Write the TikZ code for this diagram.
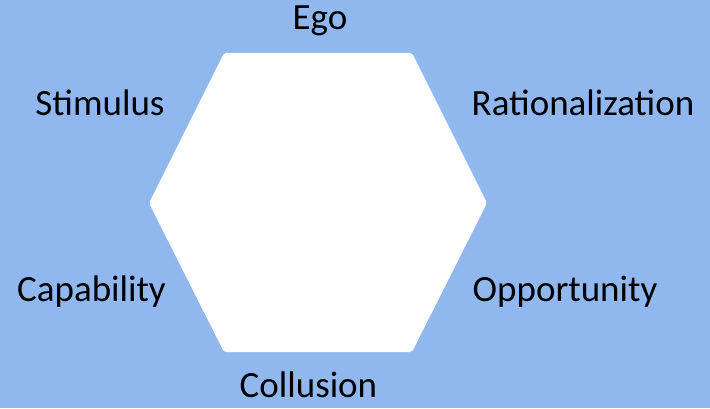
\documentclass[tikz,border=0pt]{standalone}
\usepackage{fontspec}
\setmainfont{Carlito}
\definecolor{bgblue}{RGB}{144,183,238}
\begin{document}
\begin{tikzpicture}[x=1pt,y=1pt,
  lbl/.style={font=\fontsize{37}{44}\selectfont, text=black, inner sep=0pt, anchor=base}]
\fill[bgblue] (0,0) rectangle (710,408);
\useasboundingbox (0,0) rectangle (710,408);
\coordinate (tl) at (224,355);
\coordinate (tr) at (412,355);
\coordinate (r) at (487,205);
\coordinate (br) at (412,56);
\coordinate (bl) at (224,56);
\coordinate (l) at (149,205);
\fill[white, rounded corners=2pt] (tl) -- (tr) -- (r) -- (br) -- (bl) -- (l) -- cycle;
\node[lbl] (ego) at (320,378) {Ego};
\node[lbl] (stim) at (100,292) {Stimulus};
\node[lbl] (rat) at (583,292) {Rationalization};
\node[lbl] (cap) at (91.5,107) {Capability};
\node[lbl] (opp) at (565,107) {Opportunity};
\node[lbl] (col) at (308.5,11) {Collusion};
\end{tikzpicture}
\end{document}
